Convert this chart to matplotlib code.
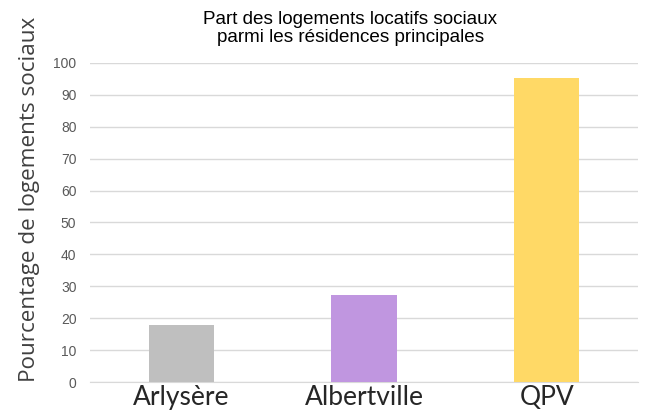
import matplotlib
matplotlib.use("Agg")
import matplotlib.pyplot as plt

# Données
categories = ["Arlysère", "Albertville", "QPV"]
valeurs = [18, 27.2, 95.2]
couleurs = ["#bfbfbf", "#c096e0", "#ffd966"]
yticks = list(range(0, 101, 10))

fig = plt.figure(figsize=(6.45, 4.19), dpi=100)
ax = fig.add_axes([0.14, 0.088, 0.849, 0.762])

x = range(len(categories))
ax.bar(x, valeurs, width=0.36, color=couleurs, zorder=3)

ax.set_ylim(0, 100)
ax.set_xlim(-0.5, len(categories) - 0.5)
ax.set_yticks(yticks)
ax.set_yticklabels([str(t) for t in yticks], fontsize=10, color="#595959",
                   family="Liberation Sans")
ax.set_xticks(list(x))
ax.set_xticklabels(categories, fontsize=19, color="#262626", family="Lato")
ax.tick_params(axis="both", length=0)
ax.tick_params(axis="y", pad=10)
ax.tick_params(axis="x", pad=2)

ax.grid(axis="y", color="#d9d9d9", linewidth=1, zorder=0)
for s in ["top", "right", "left"]:
    ax.spines[s].set_visible(False)
ax.spines["bottom"].set_color("#d9d9d9")

ax.set_ylabel("Pourcentage de logements sociaux", fontsize=16.2, color="#404040",
              family="Open Sans")
ax.yaxis.set_label_coords(-0.092, 0.571)

fig.text(0.543, 0.932, "Part des logements locatifs sociaux\nparmi les résidences principales",
         ha="center", va="center", fontsize=13.6, family="Liberation Sans",
         linespacing=1.05)

fig.savefig("out.png", dpi=100)
